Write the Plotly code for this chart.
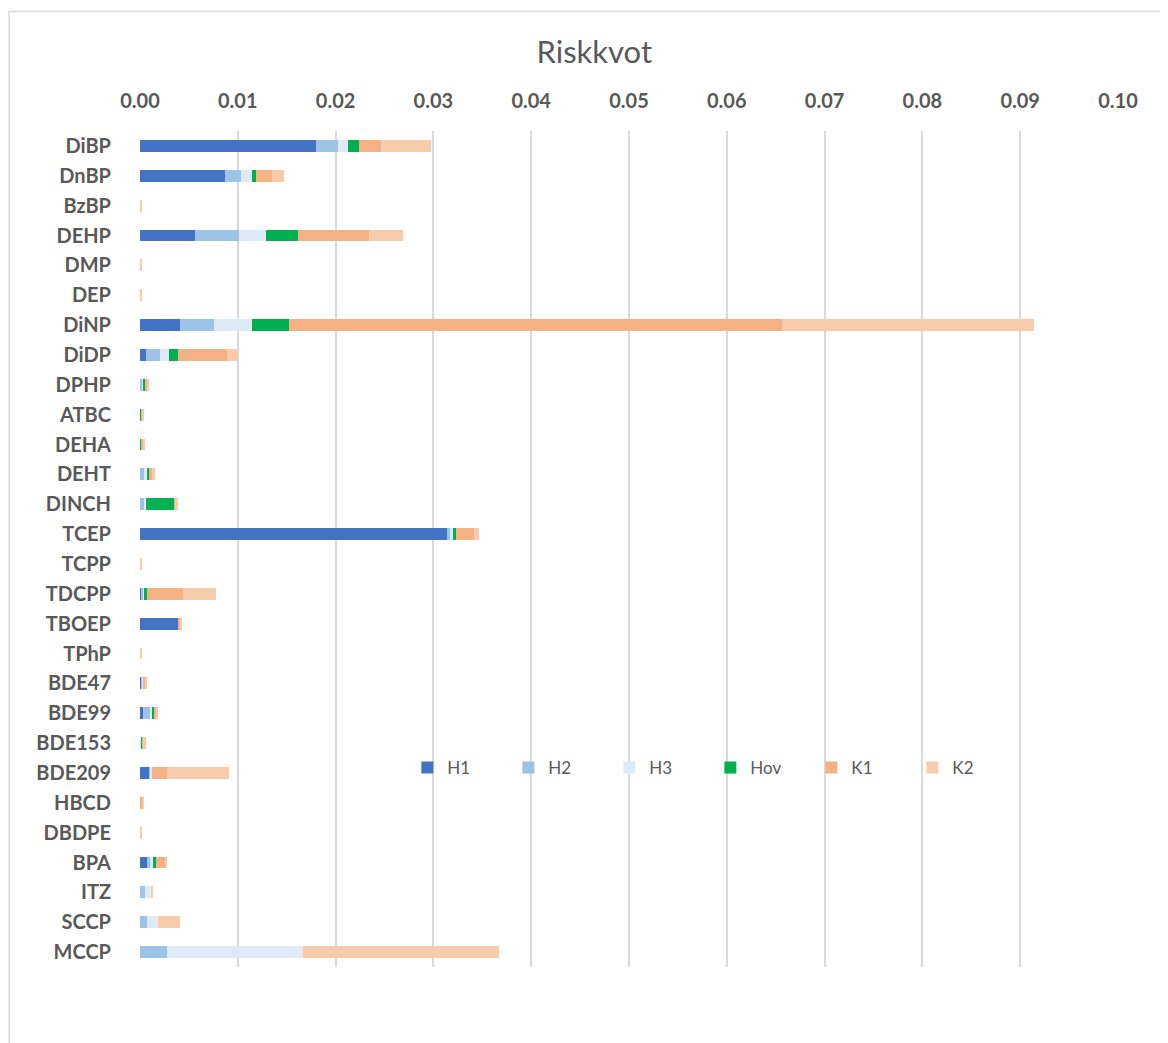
import plotly.graph_objects as go

categories = ["DiBP", "DnBP", "BzBP", "DEHP", "DMP", "DEP", "DiNP", "DiDP", "DPHP", "ATBC",
              "DEHA", "DEHT", "DINCH", "TCEP", "TCPP", "TDCPP", "TBOEP", "TPhP", "BDE47", "BDE99",
              "BDE153", "BDE209", "HBCD", "DBDPE", "BPA", "ITZ", "SCCP", "MCCP"]

H1 = [0.0180, 0.0087, 0, 0.0056, 0, 0, 0.0041, 0.0006, 0, 0,
      0, 0, 0, 0.0314, 0, 0.00017, 0.0039, 0, 0.00017, 0.00034,
      0, 0.00092, 0, 0, 0.00075, 0, 0, 0]
H2 = [0.0022, 0.0016, 0, 0.0045, 0, 0, 0.0035, 0.0014, 0.00024, 0,
      0.0001, 0.00037, 0.00044, 0.0003, 0, 0.0002, 0, 0, 0.00007, 0.00075,
      0.0001, 0.00014, 0, 0, 0.0003, 0.00055, 0.00075, 0.0028]
H3 = [0.0011, 0.0012, 0, 0.0028, 0, 0, 0.0039, 0.0010, 0.00014, 0,
      0, 0.00037, 0.00014, 0.0004, 0, 0.00003, 0, 0, 0.0001, 0.0002,
      0.00007, 0.00014, 0, 0, 0.00027, 0.0006, 0.0011, 0.0139]
Hov = [0.0011, 0.0004, 0, 0.0033, 0, 0, 0.0037, 0.0009, 0.00017, 0.00017,
       0.00003, 0.00017, 0.0029, 0.0002, 0, 0.00034, 0, 0, 0, 0.00017,
       0.00013, 0, 0, 0, 0.0003, 0, 0, 0]
K1 = [0.0022, 0.0016, 0.0001, 0.0072, 0.0001, 0.0001, 0.0504, 0.0050, 0.0002, 0.0001,
      0.0002, 0.00031, 0.00017, 0.0018, 0.0001, 0.0037, 0.0002, 0.0001, 0.0002, 0.00017,
      0.0001, 0.0016, 0.00027, 0.0001, 0.00095, 0.00007, 0, 0]
K2 = [0.0052, 0.0012, 0.0001, 0.0035, 0.0001, 0.0001, 0.0258, 0.0011, 0.0002, 0.00017,
      0.0002, 0.00031, 0.0002, 0.0006, 0.0001, 0.0033, 0.00024, 0.0001, 0.0002, 0.00024,
      0.0002, 0.00634, 0.00017, 0.0001, 0.0002, 0.00013, 0.0022, 0.0200]

series = [("H1", H1, "#4472C4"), ("H2", H2, "#9DC3E6"), ("H3", H3, "#DEEBF7"),
          ("Hov", Hov, "#00B050"), ("K1", K1, "#F4B183"), ("K2", K2, "#F8CBAD")]

fig = go.Figure()
for name, vals, col in series:
    fig.add_trace(go.Bar(y=categories, x=vals, name=name, orientation="h",
                         marker=dict(color=col, line=dict(width=0))))

# page body has an 8px margin, so figure coordinates = screen coordinates - 8
OFF = 8
W, H = 1168 - OFF, 1043 - OFF
L = 139.5 - OFF
T = 131 - OFF
R = W - (1118 - OFF)
B = H - (967 - OFF)
pw = W - L - R
ph = H - T - B

def px(x):
    return (x - OFF - L) / pw

def py(y):
    return (H - B - (y - OFF)) / ph

fig.update_layout(
    width=W, height=H,
    margin=dict(l=L, r=R, t=T, b=B),
    paper_bgcolor="white", plot_bgcolor="white",
    barmode="stack", bargap=0.6,
    font=dict(family="Lato, Carlito, sans-serif", color="#595959"),
    title=dict(text="Riskkvot", font=dict(size=31, color="#595959", family="Lato, sans-serif"),
               xref="paper", x=px(594), xanchor="center",
               yref="container", y=1 - (52 - OFF) / H, yanchor="middle"),
    xaxis=dict(side="top", range=[0, 0.1], dtick=0.01, tickformat=".2f",
               showgrid=True, gridcolor="#d9d9d9", gridwidth=1.5, zeroline=False,
               showline=False, ticks="", ticklabelstandoff=18,
               tickfont=dict(size=20, color="#595959", family="Lato, sans-serif", weight="bold")),
    yaxis=dict(categoryorder="array", categoryarray=categories, autorange="reversed",
               showgrid=False, zeroline=False, showline=False, ticks="",
               ticklabelstandoff=28,
               tickfont=dict(size=20, color="#595959", family="Lato, sans-serif", weight="bold")),
    legend=dict(orientation="h", x=px(407), xanchor="left",
                y=py(768), yanchor="middle",
                entrywidth=56, entrywidthmode="pixels",
                font=dict(size=17, color="#595959"), bgcolor="rgba(0,0,0,0)",
                traceorder="normal"),
    shapes=[dict(type="rect", xref="paper", yref="paper",
                 x0=px(8.5), x1=1.2, y0=-0.2, y1=py(11.5),
                 line=dict(color="#d9d9d9", width=1.5), fillcolor="rgba(0,0,0,0)", layer="below")],
)

fig.write_html("out.html")
